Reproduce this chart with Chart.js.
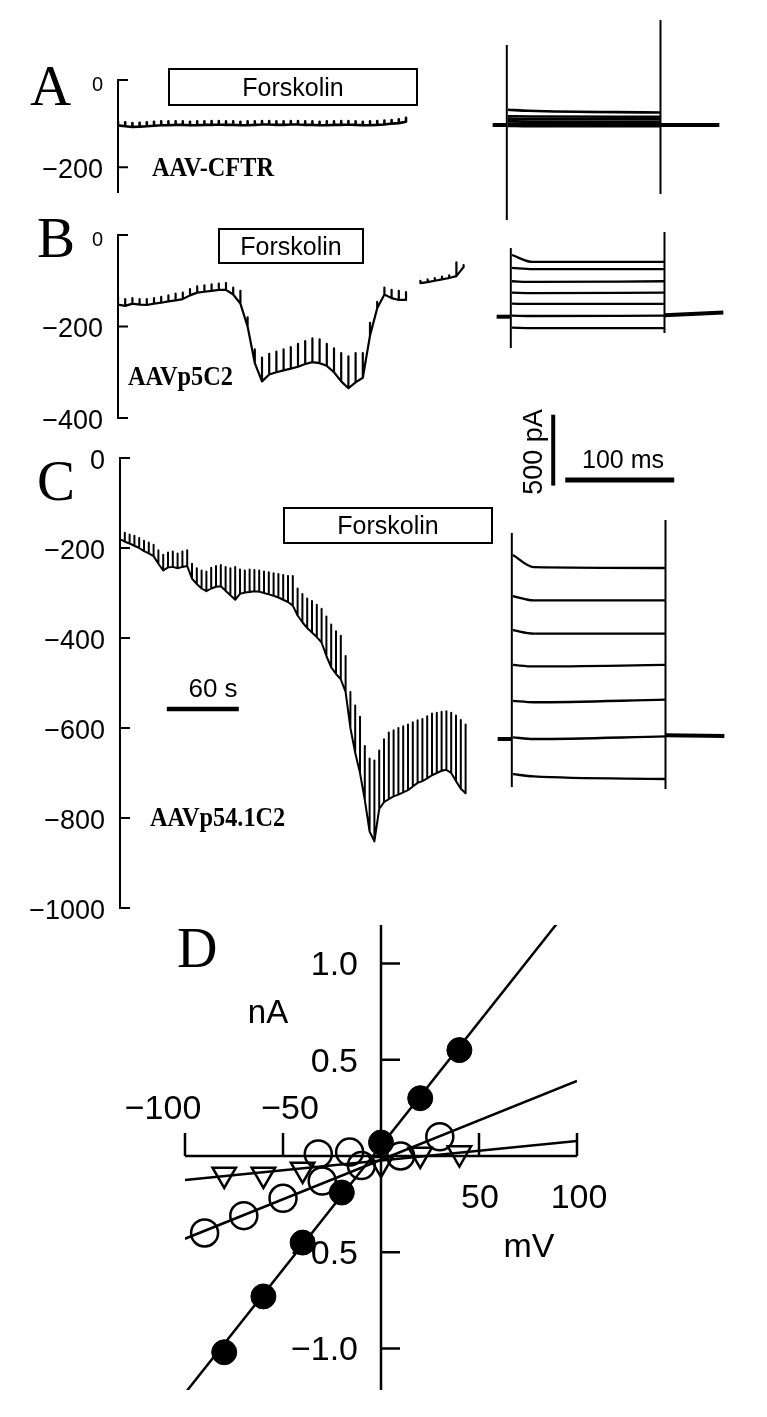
<!DOCTYPE html>
<html>
<head>
<meta charset="utf-8">
<script src="https://cdn.jsdelivr.net/npm/chart.js@4.4.0/dist/chart.umd.min.js"></script>
<style>
  html, body { margin: 0; padding: 0; background: #fff; }
  body { width: 767px; height: 1417px; position: relative; overflow: hidden;
         font-family: "Liberation Sans", Arial, sans-serif; color: #000; }
  canvas { position: absolute; display: block; }
  .txt { position: absolute; white-space: nowrap; line-height: 1; }
  .letter { font-family: "Liberation Serif", serif; }
  .clone { font-family: "Liberation Serif", serif; font-weight: bold; font-size: 27px;
           transform-origin: 0 0; transform: scaleX(0.9); }
  .mid { text-align: center; width: 100px; }
  .drug { position: absolute; box-sizing: border-box; border: 2px solid #000;
          display: flex; align-items: center; justify-content: center;
          font-size: 25px; line-height: 1; }
</style>
</head>
<body>

<canvas id="cA" width="460" height="150" style="left:30px;top:60px"></canvas>
<canvas id="cB" width="460" height="225" style="left:30px;top:215px"></canvas>
<canvas id="cC" width="460" height="490" style="left:30px;top:438px"></canvas>
<canvas id="sA" width="240" height="215" style="left:485px;top:15px"></canvas>
<canvas id="sB" width="240" height="140" style="left:489px;top:220px"></canvas>
<canvas id="sC" width="240" height="400" style="left:490px;top:400px"></canvas>
<canvas id="cD" width="540" height="517" style="left:100px;top:900px"></canvas>

<div class="txt letter" style="left:30px;top:57px;font-size:57px">A</div>
<div class="txt letter" style="left:37px;top:209px;font-size:57px">B</div>
<div class="txt letter" style="left:37px;top:452px;font-size:57px">C</div>
<div class="txt letter" style="left:177px;top:920px;font-size:56px">D</div>

<div class="txt clone" style="left:152px;top:154px">AAV-CFTR</div>
<div class="txt clone" style="left:128px;top:363px">AAVp5C2</div>
<div class="txt clone" style="left:150px;top:804px">AAVp54.1C2</div>

<div class="drug" style="left:168px;top:68px;width:250px;height:38px">Forskolin</div>
<div class="drug" style="left:218px;top:228px;width:146px;height:36px">Forskolin</div>
<div class="drug" style="left:283px;top:507px;width:210px;height:37px">Forskolin</div>

<div class="txt mid" style="left:163px;top:675px;font-size:26px">60 s</div>
<div class="txt mid" style="left:573px;top:447px;font-size:25px">100 ms</div>
<div class="txt" style="left:533px;top:452px;font-size:27px;transform:translate(-50%,-50%) rotate(-90deg)">500 pA</div>
<div class="txt mid" style="left:218px;top:995px;font-size:33px">nA</div>
<div class="txt mid" style="left:479px;top:1228px;font-size:34px">mV</div>

<script>
// ---- whole-cell current vs time (pA, s) ----
const timeA = [0,6,12,18,24,30,36,42,48,54,60,66,72,78,84,90,96,102,108,114,120,126,132,138,144,150,156,162,168,174,180,186,192,198,204,210,216,222,228,234,240];
const baseA = [-104,-106,-108,-107,-106,-105,-104,-104,-103,-103,-104,-104,-103,-103,-102,-103,-103,-104,-104,-103,-102,-102,-103,-103,-102,-102,-103,-103,-104,-104,-103,-103,-102,-103,-104,-104,-103,-102,-100,-99,-96];
const topA  = [-95,-97,-99,-98,-97,-96,-95,-95,-95,-95,-96,-95,-95,-94,-94,-95,-95,-96,-95,-95,-94,-94,-95,-95,-94,-94,-95,-95,-96,-95,-95,-94,-94,-95,-96,-95,-94,-93,-92,-90,-87];

const timeB = [0,6,12,18,24,30,36,42,48,54,60,66,72,78,84,90,96,102,108,114,120,126,132,138,144,150,156,162,168,174,180,186,192,198,204,210,216,222,228,234,240,246,252,258,264,270,276,282,288];
const baseB = [-152,-155,-150,-152,-153,-150,-148,-145,-143,-140,-132,-126,-124,-122,-120,-120,-130,-150,-200,-280,-320,-305,-300,-296,-292,-288,-282,-278,-280,-286,-300,-320,-335,-322,-312,-220,-160,-130,-138,-142,-142,null,-105,-103,-100,-97,-94,-90,-70];
const topB  = [-132,-140,-138,-140,-140,-138,-135,-132,-128,-126,-118,-112,-110,-108,-106,-105,-115,-122,-180,-250,-268,-260,-255,-250,-245,-238,-232,-226,-228,-238,-248,-258,-265,-258,-258,-192,-146,-115,-120,-122,-125,null,-100,-97,-94,-91,-88,-60,-66];

const timeC = [0,4,8,12,16,20,24,28,32,36,40,44,48,52,56,60,64,68,72,76,80,84,88,92,96,100,104,108,112,116,120,124,128,132,136,140,144,148,152,156,160,164,168,172,176,180,184,188,192,196,200,204,208,212,216,220,224,228,232,236,240,244,248,252,256,260,264,268,272,276,280,284,288];
const baseC = [-180,-186,-190,-195,-200,-207,-212,-218,-235,-250,-243,-242,-245,-242,-240,-268,-280,-290,-296,-290,-286,-285,-295,-305,-315,-302,-299,-298,-296,-297,-300,-303,-306,-310,-315,-320,-328,-350,-365,-378,-388,-398,-410,-440,-465,-480,-492,-520,-600,-655,-700,-760,-830,-852,-780,-765,-758,-752,-748,-743,-738,-730,-722,-718,-712,-705,-700,-695,-693,-700,-718,-735,-745];
const topC  = [-160,-166,-170,-173,-178,-184,-188,-193,-205,-215,-210,-208,-212,-208,-205,-235,-245,-250,-252,-244,-240,-238,-242,-245,-242,-248,-250,-248,-249,-250,-252,-254,-256,-258,-260,-262,-262,-290,-302,-312,-318,-326,-335,-352,-370,-385,-395,-440,-520,-550,-575,-640,-668,-672,-650,-625,-610,-605,-600,-596,-592,-587,-583,-580,-574,-568,-566,-564,-563,-566,-572,-582,-592];

const ticksA = [0, -200];
const ticksB = [0, -200, -400];
const ticksC = [0, -200, -400, -600, -800, -1000];
const timeBarS = [39, 99];      // 60 s
const timeBarLevel = -558;

// ---- voltage-step families (pA, ms) ----
const stepT = [1, 20, 141];
const holdLeftT = [-13, 0];
const holdRightT = [141, 195];

const stepOnA  = [108, 62, 45, 26, 10, 2, -6];
const stepMidA = [100, 60, 42, 24, 8, 0, -8];
const stepEndA = [88, 58, 40, 22, 8, 0, -8];
const holdA = [0, 0, 0, 0];
const transOnA = [-670, 564];
const transOffA = [-487, 740];

const stepOnB  = [430, 340, 245, 165, 87, 2, -82];
const stepMidB = [381, 331, 240, 162, 85, 0, -85];
const stepEndB = [381, 331, 245, 165, 85, 2, -85];
const holdB = [-5, -5, 5, 25];
const transOnB = [-226, 479];
const transOffB = [-120, 592];

const stepOnC  = [1290, 1000, 760, 515, 262, 5, -255];
const stepMidC = [1205, 970, 736, 505, 252, -7, -271];
const stepEndC = [1199, 970, 736, 515, 270, 11, -289];
const holdC = [-7, -7, 20, 15];
const transOnC = [-346, 1446];
const transOffC = [-360, 1537];

const scaleBarMs = [49, 149];   // 100 ms
const scaleBarMsLevel = 1820;
const scaleBarPA = [1780, 2280]; // 500 pA
const scaleBarPAAt = 38;

// ---- I-V relation (mV, nA) ----
const filledV = [-80, -60, -40, -20, 0, 20, 40];
const filledI = [-1.02, -0.73, -0.45, -0.19, 0.07, 0.30, 0.55];
const openV = [-90, -70, -50, -30, -32, -16, -10, 10, 30];
const openI = [-0.40, -0.31, -0.22, -0.13, 0.01, 0.02, -0.05, 0.0, 0.10];
const triV = [-80, -60, -40, 0, 20, 40];
const triI = [-0.096, -0.096, -0.07, -0.04, 0.008, 0.015];
const fitV = [-100, 100];
const fitFilledI = [-1.233, 1.339];
const fitOpenI = [-0.43, 0.39];
const fitTriI = [-0.125, 0.078];
const ivTicksX = [-100, -50, 50, 100];
const ivTicksY = [1.0, 0.5, -0.5, -1.0];

Chart.defaults.font.family = '"Liberation Sans", Arial, sans-serif';
Chart.defaults.color = '#000';

function fmt(v, dec) {
  const s = Math.abs(v).toFixed(dec);
  return v < 0 ? '\u2212' + s : s;
}

// trace with the periodic voltage-pulse spikes: baseline -> top -> baseline at each sample
function spikeTrace(times, base, top) {
  const pts = [];
  times.forEach((t, i) => {
    if (base[i] === null) { pts.push({x: t, y: null}); return; }
    pts.push({x: t, y: base[i]});
    pts.push({x: t, y: top[i]});
    pts.push({x: t, y: base[i]});
  });
  return pts;
}

function lineSet(points, width) {
  return {
    data: points, borderColor: '#000', borderWidth: width, pointRadius: 0,
    borderJoinStyle: 'round', borderCapStyle: 'butt', tension: 0, spanGaps: false
  };
}

function pairs(xs, ys) {
  return xs.map((x, i) => ({x: x, y: ys[i]}));
}

// y axis drawn at t = 0 with ticks pointing into the plot
function traceAxis(cfg) {
  return {
    id: 'traceAxis',
    beforeDatasetsDraw(chart) {
      const ctx = chart.ctx, xs = chart.scales.x, ys = chart.scales.y;
      const x0 = xs.getPixelForValue(0);
      ctx.save();
      ctx.strokeStyle = '#000';
      ctx.fillStyle = '#000';
      ctx.lineWidth = 2;
      ctx.beginPath();
      ctx.moveTo(x0, ys.getPixelForValue(cfg.top) - 1);
      ctx.lineTo(x0, ys.getPixelForValue(cfg.bottom) + 1);
      cfg.ticks.forEach(v => {
        const y = ys.getPixelForValue(v);
        ctx.moveTo(x0, y);
        ctx.lineTo(x0 + 10, y);
      });
      ctx.stroke();
      ctx.textAlign = 'right';
      ctx.textBaseline = 'alphabetic';
      cfg.ticks.forEach(v => {
        const size = v === 0 ? cfg.zeroSize : 27;
        ctx.font = size + 'px "Liberation Sans"';
        ctx.fillText(fmt(v, 0), x0 - 15, ys.getPixelForValue(v) + size * 0.36 + (v === 0 ? cfg.zeroDy : 1));
      });
      ctx.restore();
    }
  };
}

// crossing axes through the origin
function ivAxes(cfg) {
  return {
    id: 'ivAxes',
    beforeDatasetsDraw(chart) {
      const ctx = chart.ctx, xs = chart.scales.x, ys = chart.scales.y, a = chart.chartArea;
      const x0 = xs.getPixelForValue(0), y0 = ys.getPixelForValue(0);
      ctx.save();
      ctx.strokeStyle = '#000';
      ctx.fillStyle = '#000';
      ctx.lineWidth = 2.5;
      ctx.beginPath();
      ctx.moveTo(xs.getPixelForValue(xs.min), y0);
      ctx.lineTo(xs.getPixelForValue(xs.max), y0);
      ctx.moveTo(x0, a.top);
      ctx.lineTo(x0, a.bottom);
      cfg.xTicks.forEach(v => {
        const px = xs.getPixelForValue(v);
        ctx.moveTo(px, y0);
        ctx.lineTo(px, y0 - 23);
      });
      cfg.yTicks.forEach(v => {
        const py = ys.getPixelForValue(v);
        ctx.moveTo(x0, py);
        ctx.lineTo(x0 + 19, py);
      });
      ctx.stroke();
      ctx.font = '34px "Liberation Sans"';
      ctx.textBaseline = 'alphabetic';
      ctx.textAlign = 'center';
      cfg.xTicks.forEach((v, i) => {
        const px = xs.getPixelForValue(v) + cfg.xNudge[i];
        ctx.fillText(fmt(v, 0), px, v < 0 ? y0 - 37 : y0 + 52);
      });
      ctx.textAlign = 'right';
      cfg.yTicks.forEach(v => {
        ctx.fillText(fmt(v, 1), x0 - 23, ys.getPixelForValue(v) + 12);
      });
      ctx.restore();
    }
  };
}

const baseOptions = {
  responsive: false,
  animation: false,
  events: [],
  plugins: { legend: { display: false }, tooltip: { enabled: false } }
};

function traceChart(id, times, base, top, yMin, pad, axis, width, extra) {
  const sets = [lineSet(spikeTrace(times, base, top), width)];
  (extra || []).forEach(s => sets.push(s));
  new Chart(document.getElementById(id), {
    type: 'line',
    data: { datasets: sets },
    options: Object.assign({}, baseOptions, {
      layout: { padding: pad },
      scales: {
        x: { type: 'linear', display: false, min: 0, max: 300 },
        y: { type: 'linear', display: false, min: yMin, max: 0 }
      }
    }),
    plugins: [traceAxis(axis)]
  });
}

traceChart('cA', timeA, baseA, topA, -257, {left: 88, top: 20, right: 12, bottom: 18},
  {top: 0, bottom: -257, ticks: ticksA, zeroSize: 20, zeroDy: 4}, 2.6);
traceChart('cB', timeB, baseB, topB, -400, {left: 88, top: 20, right: 12, bottom: 22},
  {top: 0, bottom: -400, ticks: ticksB, zeroSize: 20, zeroDy: 4}, 2.2);
traceChart('cC', timeC, baseC, topC, -1000, {left: 90, top: 20, right: 10, bottom: 20},
  {top: 0, bottom: -1000, ticks: ticksC, zeroSize: 27, zeroDy: 1}, 2,
  [lineSet(timeBarS.map(t => ({x: t, y: timeBarLevel})), 4.5)]);

function stepChart(id, on, mid, end, hold, tOn, tOff, yMin, yMax, width, extra) {
  const sets = [];
  on.forEach((v, i) => {
    const s = lineSet(pairs(stepT, [on[i], mid[i], end[i]]), width);
    s.cubicInterpolationMode = 'monotone';
    sets.push(s);
  });
  sets.push(lineSet(pairs(holdLeftT, hold.slice(0, 2)), 4));
  sets.push(lineSet(pairs(holdRightT, hold.slice(2, 4)), 4));
  sets.push(lineSet(pairs([stepT[0] - 1, stepT[0] - 1], tOn), 2));
  sets.push(lineSet(pairs([stepT[2], stepT[2]], tOff), 2));
  (extra || []).forEach(s => sets.push(s));
  new Chart(document.getElementById(id), {
    type: 'line',
    data: { datasets: sets },
    options: Object.assign({}, baseOptions, {
      layout: { padding: 0 },
      scales: {
        x: { type: 'linear', display: false, min: -20, max: 200.18 },
        y: { type: 'linear', display: false, min: yMin, max: yMax }
      }
    })
  });
}

stepChart('sA', stepOnA, stepMidA, stepEndA, holdA, transOnA, transOffA, -740.5, 775.7, 2.6);
stepChart('sB', stepOnB, stepMidB, stepEndB, holdB, transOnB, transOffB, -310.3, 677, 2.3);
stepChart('sC', stepOnC, stepMidC, stepEndC, holdC, transOnC, transOffC, -437.2, 2383.6, 2.3, [
  lineSet(scaleBarMs.map(t => ({x: t, y: scaleBarMsLevel})), 5),
  lineSet(scaleBarPA.map(v => ({x: scaleBarPAAt, y: v})), 4)
]);

// ---- I-V plot ----
function markerSet(xs, ys, style) {
  return Object.assign({
    data: pairs(xs, ys), showLine: false, borderColor: '#000', pointBorderColor: '#000'
  }, style);
}

new Chart(document.getElementById('cD'), {
  type: 'line',
  data: {
    datasets: [
      lineSet(pairs(fitV, fitFilledI), 2.5),
      lineSet(pairs(fitV, fitOpenI), 2.5),
      lineSet(pairs(fitV, fitTriI), 2.5),
      markerSet(triV, triI, { pointStyle: 'triangle', pointRotation: 180, pointRadius: 13.5,
        pointBorderWidth: 2.5, pointBackgroundColor: 'rgba(0,0,0,0)' }),
      markerSet(openV, openI, { pointStyle: 'circle', pointRadius: 13.5,
        pointBorderWidth: 2.5, pointBackgroundColor: 'rgba(0,0,0,0)' }),
      markerSet(filledV, filledI, { pointStyle: 'circle', pointRadius: 12.5,
        pointBorderWidth: 1, pointBackgroundColor: '#000' })
    ]
  },
  options: Object.assign({}, baseOptions, {
    layout: { padding: {left: 85, right: 63, top: 25, bottom: 27} },
    scales: {
      x: { type: 'linear', display: false, min: -100, max: 100 },
      y: { type: 'linear', display: false, min: -1.216, max: 1.2 }
    }
  }),
  plugins: [ivAxes({ xTicks: ivTicksX, yTicks: ivTicksY, xNudge: [-22, 7, 1, 2] })]
});
</script>
</body>
</html>
